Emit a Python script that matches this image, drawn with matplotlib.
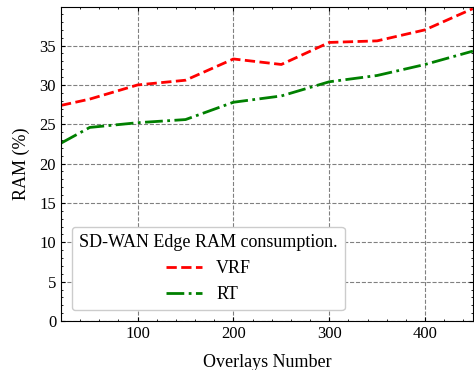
import matplotlib
matplotlib.use("Agg")
import matplotlib.pyplot as plt
import matplotlib as mpl

overlays = [20, 50, 100, 150, 200, 250, 300, 350, 400, 450]
ram_vrf = [27.4, 28.2, 30.0, 30.6, 33.3, 32.6, 35.4, 35.6, 37.0, 39.7]
ram_rt = [22.6, 24.6, 25.2, 25.6, 27.8, 28.6, 30.4, 31.2, 32.6, 34.3]


def setup_plotting():
    mpl.rcParams.update({
        "font.family": ["Liberation Serif", "DejaVu Serif"],
        "font.size": 12,
        "mathtext.fontset": "dejavuserif",
        "xtick.direction": "in",
        "ytick.direction": "in",
        "xtick.top": True,
        "ytick.right": True,
        "xtick.minor.visible": True,
        "ytick.minor.visible": True,
        "xtick.major.size": 3,
        "ytick.major.size": 3,
        "xtick.minor.size": 1.5,
        "ytick.minor.size": 1.5,
        "axes.linewidth": 0.8,
    })


setup_plotting()
fig = plt.figure(figsize=(4.74, 3.7), dpi=100)
ax = fig.add_axes([0.1287, 0.1324, 0.869, 0.8486])

ax.plot(overlays, ram_vrf, color="r", linestyle="--", linewidth=2.0, label="VRF")
ax.plot(overlays, ram_rt, color="g", linestyle="-.", linewidth=2.0, label="RT")

ax.set_xlim(20, 450)
ax.set_ylim(0, 39.9)
ax.set_xticks([100, 200, 300, 400])
ax.set_yticks(range(0, 40, 5))
ax.grid(True, which="major", linestyle="--", color="gray", linewidth=0.8)

ax.set_xlabel("Overlays Number", fontsize=13, labelpad=9)
ax.set_ylabel("RAM (%)", fontsize=13, labelpad=7)

leg = ax.legend(title="SD-WAN Edge RAM consumption.", loc="lower left",
                fontsize=13, title_fontsize=13, frameon=True,
                handlelength=2.0, borderaxespad=0.6)
leg.get_frame().set_edgecolor("#cccccc")
leg.get_frame().set_alpha(1.0)

fig.savefig("out.png", dpi=100)
